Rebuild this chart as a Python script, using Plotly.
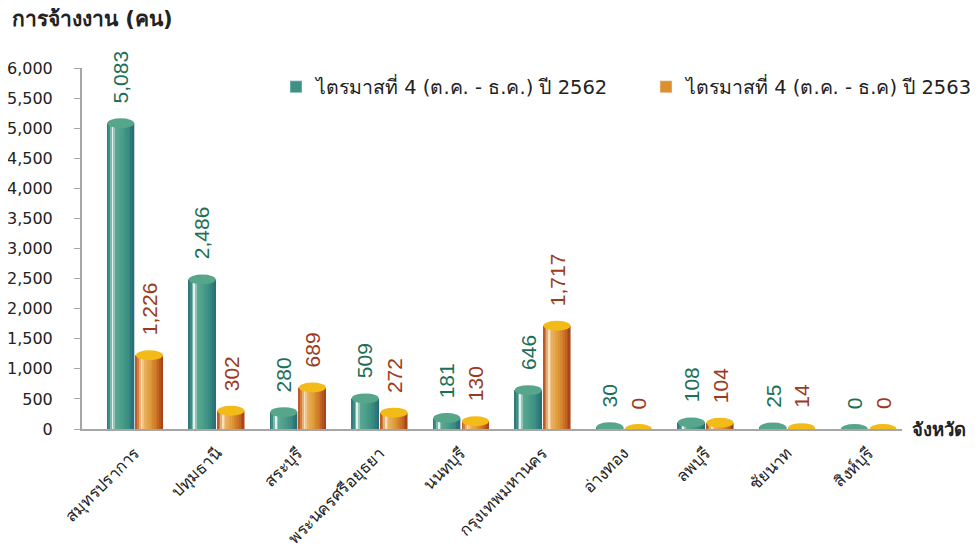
import plotly.graph_objects as go

# ---------------- data ----------------
provinces = ["สมุทรปราการ", "ปทุมธานี", "สระบุรี", "พระนครศรีอยุธยา", "นนทบุรี",
             "กรุงเทพมหานคร", "อ่างทอง", "ลพบุรี", "ชัยนาท", "สิงห์บุรี"]
series_names = ["ไตรมาสที่ 4 (ต.ค. - ธ.ค.) ปี 2562", "ไตรมาสที่ 4 (ต.ค. - ธ.ค) ปี 2563"]
q4_2562 = [5083, 2486, 280, 509, 181, 646, 30, 108, 25, 0]
q4_2563 = [1226, 302, 689, 272, 130, 1717, 0, 104, 14, 0]
y_tick_vals = list(range(0, 6001, 500))
y_tick_text = [f"{v:,}" for v in y_tick_vals]
y_title = "การจ้างงาน (คน)"
x_title = "จังหวัด"

# ---------------- styling ----------------
FONT = "Tahoma, 'DejaVu Sans', 'Noto Sans', sans-serif"
LBL_FONT = "Tahoma, 'Liberation Sans', Arial, sans-serif"

green_stops = [(0.0, "#2a6f74"), (0.12, "#43958b"), (0.22, "#e6f3ee"), (0.32, "#5ea893"),
               (0.55, "#4a9e88"), (0.8, "#3a8b82"), (1.0, "#256a78")]
orange_stops = [(0.0, "#b04c1a"), (0.12, "#de8c48"), (0.22, "#fbe4c4"), (0.32, "#ebb162"),
                (0.55, "#df9b38"), (0.8, "#cb6e24"), (1.0, "#a23e18")]
cap_colors = ["#57a68c", "#f3bb18"]
label_colors = ["#1c7055", "#9c3b1c"]
legend_colors = ["#3f9186", "#dc8f2c"]

# the page body has an 8px margin, so the figure is drawn 8px in from the corner
PAGE_OFF = 8
W, H = 979 - PAGE_OFF, 548 - PAGE_OFF
L, T = 82 - PAGE_OFF, 68 - PAGE_OFF
PW, PH = 820, 361
R, B = W - L - PW, H - T - PH


def hex2rgb(h):
    h = h.lstrip("#")
    return tuple(int(h[i:i + 2], 16) for i in (0, 2, 4))


def interp(stops, t):
    for (p0, c0), (p1, c1) in zip(stops[:-1], stops[1:]):
        if p0 <= t <= p1:
            f = (t - p0) / (p1 - p0) if p1 > p0 else 0
            a, b = hex2rgb(c0), hex2rgb(c1)
            return "rgb(%d,%d,%d)" % tuple(round(a[k] + (b[k] - a[k]) * f) for k in range(3))
    return stops[-1][1]


x_pos = list(range(len(provinces)))
bar_w = 0.33
offsets = [-0.34, 0.012]
N = 16

fig = go.Figure()
shapes = []
annotations = []

for s, (vals, stops) in enumerate([(q4_2562, green_stops), (q4_2563, orange_stops)]):
    sw = bar_w / N
    for k in range(N):
        t = (k + 0.5) / N
        fig.add_trace(go.Bar(
            x=x_pos, y=vals,
            width=sw * 1.08, offset=offsets[s] + k * sw,
            marker=dict(color=interp(stops, t), line=dict(width=0)),
            showlegend=False, hoverinfo="skip",
        ))
    # legend entry
    fig.add_trace(go.Bar(x=[None], y=[None], name=series_names[s],
                         marker=dict(color=legend_colors[s])))
    for i, v in zip(x_pos, vals):
        shapes.append(dict(
            type="circle", xref="x", yref="y", layer="above",
            x0=i + offsets[s], x1=i + offsets[s] + bar_w,
            ysizemode="pixel", yanchor=v, y0=-5, y1=5,
            fillcolor=cap_colors[s], line=dict(width=0),
        ))
        annotations.append(dict(
            x=i + offsets[s] + bar_w / 2, y=v, xref="x", yref="y",
            text=f"{v:,}", textangle=-90, showarrow=False,
            xanchor="center", yanchor="bottom", yshift=18,
            font=dict(family=LBL_FONT, size=21, color=label_colors[s]),
        ))

# chart title (top-left of the page) and x-axis title (right of the axis end)
annotations.append(dict(
    x=(10 - PAGE_OFF - L) / PW, y=1 + (T - 5 + PAGE_OFF) / PH, xref="paper", yref="paper",
    xanchor="left", yanchor="top",
    text=f"<b>{y_title}</b>", showarrow=False,
    font=dict(family=FONT, size=21, color="#222")))
annotations.append(dict(
    x=1.0, y=0, xref="paper", yref="paper", xanchor="left", yanchor="middle",
    xshift=8, text=f"<b>{x_title}</b>", showarrow=False,
    font=dict(family=FONT, size=18.5, color="#222")))

fig.update_layout(
    width=W, height=H,
    margin=dict(l=L, r=R, t=T, b=B, autoexpand=False),
    paper_bgcolor="white", plot_bgcolor="white",
    barmode="overlay",
    font=dict(family=FONT, size=16, color="#222"),
    shapes=shapes,
    annotations=annotations,
    showlegend=True,
    legend=dict(orientation="h", x=(276 - PAGE_OFF - L) / PW, xanchor="left",
                y=1.001, yanchor="top",
                font=dict(family=FONT, size=19.5, color="#222"),
                itemwidth=30, entrywidth=325, bgcolor="rgba(0,0,0,0)",
                traceorder="normal"),
    xaxis=dict(
        range=[-0.65, 9.41],
        tickmode="array", tickvals=x_pos, ticktext=provinces,
        tickangle=-45, tickfont=dict(family=FONT, size=16.5, color="#222"),
        ticks="outside", ticklen=6, tickcolor="rgba(0,0,0,0)",
        showline=True, linecolor="#a6a6a6", linewidth=2,
        showgrid=False, zeroline=False,
    ),
    yaxis=dict(
        range=[0, 6000],
        tickmode="array", tickvals=y_tick_vals, ticktext=y_tick_text,
        tickfont=dict(family=FONT, size=16, color="#222"),
        ticks="outside", ticklen=6, tickcolor="#a6a6a6",
        ticklabelstandoff=18,
        showline=True, linecolor="#a6a6a6", linewidth=2,
        showgrid=False, zeroline=False,
    ),
)

fig.write_html("out.html")
